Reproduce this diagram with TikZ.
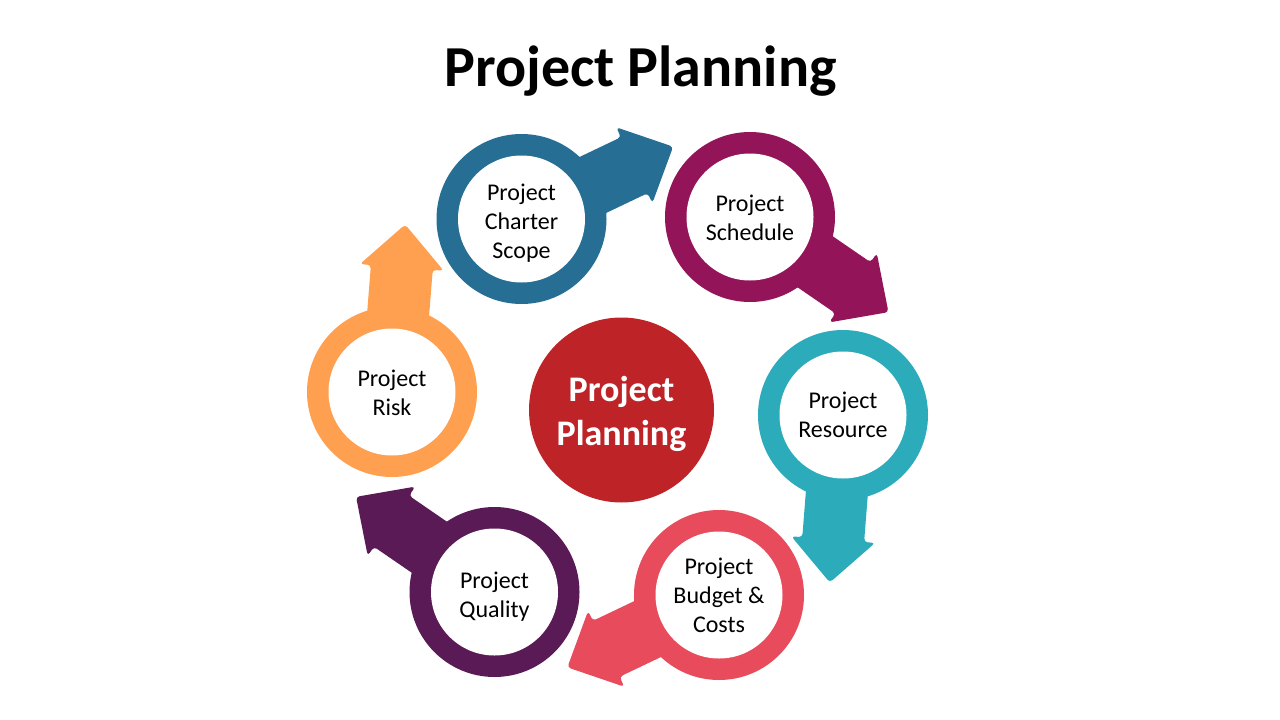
\documentclass[tikz,border=0pt]{standalone}
\usepackage{fontspec}
\setmainfont{Carlito}
\definecolor{cblue}{HTML}{266E94}
\definecolor{cmag}{HTML}{941459}
\definecolor{cteal}{HTML}{2CACBB}
\definecolor{cpink}{HTML}{E84B5B}
\definecolor{cplum}{HTML}{5A1A56}
\definecolor{corange}{HTML}{FF9F50}
\definecolor{cred}{HTML}{BE2327}
\tikzset{
  ringtext/.style={align=center, font=\fontsize{24}{29}\selectfont, text=black, inner sep=0pt},
  hubtext/.style={align=center, font=\fontsize{36}{44}\selectfont\bfseries, text=white, inner sep=0pt},
  titletext/.style={font=\fontsize{58}{70}\selectfont\bfseries, text=black, inner sep=0pt},
}
% #1 name, #2 x, #3 y, #4 arrow angle, #5 colour, #6 text, #7 text y offset
\newcommand\ringarrow[7]{%
  \begin{scope}[shift={(#2,#3)}]
    \fill[#5] (0,0) circle (85);
    \fill[#5, rotate=#4, rounded corners=3.5] (0,-31) -- (125,-31) -- (125,-42) -- (168,0) -- (125,42) -- (125,31) -- (0,31) -- cycle;
    \fill[white] (0,0) circle (63.5);
    \node[ringtext] (#1) at (0,#7) {#6};
  \end{scope}}
\begin{document}
\begin{tikzpicture}[x=1pt,y=-1pt]
\useasboundingbox[fill=white] (0,0) rectangle (1280,720);
\node[titletext, anchor=base] (title) at (640.5,86) {Project Planning};
\ringarrow{charter}{521.5}{219}{25.5}{cblue}{Project\\Charter\\Scope}{4}
\ringarrow{schedule}{750}{217}{-34.5}{cmag}{Project\\Schedule}{0.5}
\ringarrow{resource}{843}{415}{-94.5}{cteal}{Project\\Resource}{0}
\ringarrow{budget}{719}{595}{-154.5}{cpink}{Project\\Budget \&\\Costs}{0.5}
\ringarrow{quality}{494.5}{592}{145.5}{cplum}{Project\\Quality}{5}
\ringarrow{risk}{392}{392}{85.5}{corange}{Project\\Risk}{1}
\node[circle, fill=cred, minimum size=185, inner sep=0pt] (hub) at (621.5,410) {};
\node[hubtext] (hubtxt) at (621.5,413.5) {Project\\Planning};
\end{tikzpicture}
\end{document}
